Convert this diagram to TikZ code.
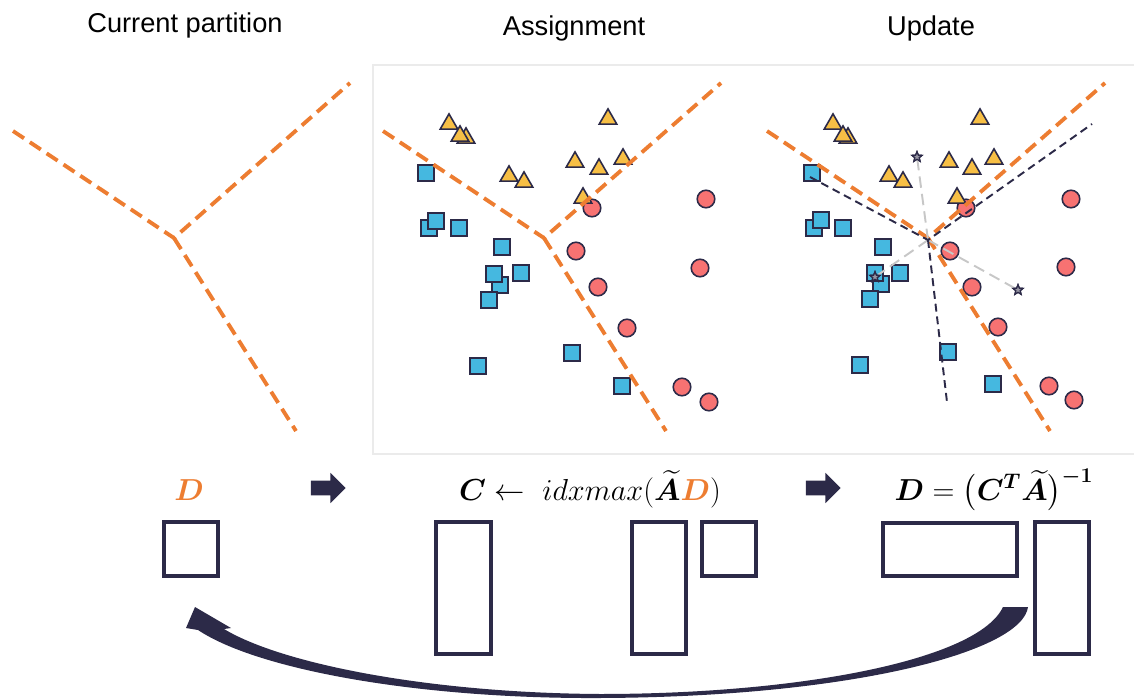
\documentclass[tikz,border=0pt]{standalone}
\usepackage{fontspec}
\setmainfont{Liberation Sans}
\usepackage{amsmath,bm}
\usetikzlibrary{shapes.geometric,shapes.arrows}

\definecolor{navy}{HTML}{2C2A48}
\definecolor{partorange}{HTML}{ED7D31}
\definecolor{ptblue}{HTML}{45B8E0}
\definecolor{ptyellow}{HTML}{F7BF45}
\definecolor{ptred}{HTML}{F77272}

\begin{document}
\begin{tikzpicture}[
        x=0.02cm, y=-0.02cm,
        title/.style={font=\fontsize{15.5}{18}\selectfont, anchor=base},
        formula/.style={font=\fontsize{18.5}{21}\selectfont, anchor=base, inner sep=0pt},
        frame/.style={draw=black!8, line width=0.6pt},
        bound/.style={draw=partorange, line width=2.2pt, dash pattern=on 7.5pt off 4pt},
        newbound/.style={draw=navy, line width=1.1pt, dash pattern=on 4.5pt off 2.8pt},
        pull/.style={draw=black!22, line width=1.1pt, dash pattern=on 6.5pt off 3.5pt},
        sqpt/.style={rectangle, draw=navy, fill=ptblue, line width=0.9pt, minimum size=9.4pt, inner sep=0pt},
        cipt/.style={circle, draw=navy, fill=ptred, line width=0.9pt, minimum size=10pt, inner sep=0pt},
        trpt/.style={regular polygon, regular polygon sides=3, draw=navy, fill=ptyellow, line width=0.9pt,
                     minimum size=11.5pt, inner sep=0pt},
        centre/.style={star, star points=5, star point ratio=2.3, draw=navy, fill=navy!50, line width=0.7pt,
                       minimum size=6pt, inner sep=0pt},
        mat/.style={draw=navy, line width=1.8pt},
        step arrow/.style={single arrow, fill=navy, inner sep=0pt, minimum width=17pt,
                           single arrow head extend=4.5pt, minimum height=19.8pt, text height=7.9pt, text depth=0pt}
    ]
    \useasboundingbox (0,0) rectangle (1134,700);

    % titles
    \node[title] (t1) at (185,32) {Current partition};
    \node[title] (t2) at (574,35) {Assignment};
    \node[title] (t3) at (931,35) {Update};

    % panel frame
    \draw[frame] (1134,65) -- (373,65) -- (373,454) -- (1134,454);

    % current partition
    \coordinate (c1) at (174,238);
    \draw[bound] (13,131) -- (c1) -- (350,83);
    \draw[bound] (c1) -- (296,431);

    % assignment: points
    \foreach \x/\y [count=\i] in {426/173, 429/228, 436/221, 459/228, 502/247, 500/285, 494/274,
                                   489/300, 521/273, 478/366, 572/353, 622/386}
        \node[sqpt] (sqa\i) at (\x,\y) {};
    \foreach \x/\y [count=\i] in {592/208, 706/199, 576/251, 700/268, 598/287, 627/328, 682/387, 709/402}
        \node[cipt] (cia\i) at (\x,\y) {};
    \foreach \x/\y [count=\i] in {449/124, 466/138, 460/136, 608/119, 509/176, 524/182, 575/162,
                                   599/169, 623/159, 583/198}
        \node[trpt] (tra\i) at (\x,\y) {};
    \coordinate (c2) at (544,238);
    \draw[bound] (383,131) -- (c2) -- (721,83);
    \draw[bound] (c2) -- (666,431);

    % update: points
    \foreach \x/\y [count=\i] in {812/173, 814/228, 821/220, 843/228, 883/247, 881/284, 875/273,
                                   870/299, 900/273, 860/365, 948/352, 993/384}
        \node[sqpt] (squ\i) at (\x,\y) {};
    \foreach \x/\y [count=\i] in {966/208, 1071/199, 950/251, 1066/267, 972/287, 998/327, 1049/386, 1074/400}
        \node[cipt] (ciu\i) at (\x,\y) {};
    \foreach \x/\y [count=\i] in {833/124, 848/138, 843/136, 980/119, 889/176, 903/182, 949/162,
                                   972/169, 994/159, 957/198}
        \node[trpt] (tru\i) at (\x,\y) {};
    \coordinate (c3) at (928,238);
    \draw[bound] (767,131) -- (c3) -- (1105,83);
    \draw[bound] (c3) -- (1050,431);
    \coordinate (m) at (928,240);
    \node[centre] (s1) at (917,157) {};
    \node[centre] (s2) at (875,277) {};
    \node[centre] (s3) at (1018,290) {};
    \draw[pull] (m) -- (s1);
    \draw[pull] (m) -- (s2);
    \draw[pull] (m) -- (s3);
    \draw[newbound] (810,177) -- (m) -- (1092,124);
    \draw[newbound] (m) -- (947,402);
    \node[centre] at (s1) {};
    \node[centre] at (s2) {};
    \node[centre] at (s3) {};

    % formulas
    \node[formula] (fd) at (189,500) {$\color{partorange}\bm{D}$};
    \node[formula] (fa) at (590,500) {$\bm{C} \leftarrow\ idxmax(\widetilde{\bm{A}}{\color{partorange}\bm{D}})$};
    \node[formula] (fu) at (994,500) {$\bm{D} = \bigl(\bm{C}^{\bm{T}}\widetilde{\bm{A}}\bigr)^{\bm{-1}}$};
    \node[step arrow] (a1) at (324.5,488) {};
    \node[step arrow] (a2) at (819.5,488) {};

    % matrices
    \draw[mat] (164,522) rectangle (218,576);
    \draw[mat] (436,522) rectangle (491,654);
    \draw[mat] (632,522) rectangle (686,654);
    \draw[mat] (702,522) rectangle (756,576);
    \draw[mat] (883,523) rectangle (1017,576);
    \draw[mat] (1035,522) rectangle (1089,654);

    % loop back
    \fill[navy] (1003,607) -- (1028,607) .. controls (1022,652) and (850,697) .. (600,698)
        .. controls (420,699) and (258,670) .. (198,630) -- (186,628) -- (195,607) -- (231,628) -- (224,629)
        .. controls (282,664) and (430,693) .. (600,694)
        .. controls (800,694) and (978,660) .. (1003,607) -- cycle;
\end{tikzpicture}
\end{document}
